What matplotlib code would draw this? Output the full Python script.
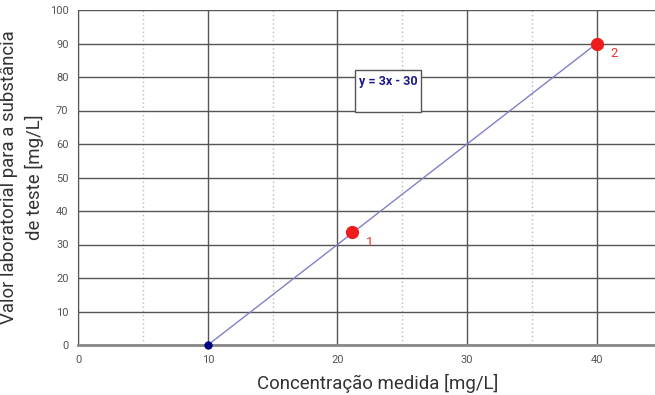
#!/usr/bin/env python3
"""Calibration line: laboratory value vs measured concentration."""

import matplotlib.pyplot as plt
from matplotlib.patches import Rectangle
from matplotlib.ticker import MultipleLocator

plt.rcParams["font.family"] = ["Roboto", "DejaVu Sans"]

# data
line_x = [10, 40]
line_y = [0, 90]
origin_x = [10]
origin_y = [0]
pts_x = [21.1, 40]
pts_y = [33.8, 90]
pts_labels = ["1", "2"]
equation = "y = 3x - 30"

fig = plt.figure(figsize=(6.55, 3.95), dpi=100)
ax = fig.add_axes([78.3 / 655, 1 - 345 / 395, 1 - 78.3 / 655, 335 / 395])
ax.set_xlim(0, 44.5)
ax.set_ylim(0, 100)

# grid: solid every 10, dotted minor every 5 on x
ax.xaxis.set_major_locator(MultipleLocator(10))
ax.xaxis.set_minor_locator(MultipleLocator(5))
ax.yaxis.set_major_locator(MultipleLocator(10))
ax.grid(True, which="major", color="#555555", linewidth=1.0)
ax.grid(True, which="minor", axis="x", color="#bbbbbb", linewidth=1.0, linestyle=(0, (1, 2)))
ax.set_axisbelow(True)
for side in ["right", "top"]:
    ax.spines[side].set_visible(False)
ax.spines["left"].set_color("#555555")
ax.spines["bottom"].set_color("#888888")
ax.spines["bottom"].set_linewidth(2)
ax.axhline(100, color="#cccccc", linewidth=1.5, zorder=0)

ax.tick_params(which="both", length=0, labelsize=8, labelcolor="#555555", pad=7)

ax.plot(line_x, line_y, color="#8080c8", linewidth=1.0, zorder=3)
ax.plot(origin_x, origin_y, "o", color="#000080", markersize=5, zorder=4, clip_on=False)
ax.plot(pts_x, pts_y, "o", color="#ee1c1c", markersize=8.5, zorder=5)
for x, y, lab in zip(pts_x, pts_y, pts_labels):
    ax.annotate(lab, (x, y), xytext=(10, -10), textcoords="offset points",
                color="#ee3333", fontsize=9.5)

# equation box
ax.add_patch(Rectangle((0.4798, 0.6955), 0.1144, 0.1254, transform=ax.transAxes,
                       facecolor="white", edgecolor="#555555", linewidth=1, zorder=6))
ax.text(0.4798 + 0.1144 / 2, 0.6955 + 0.1254 - 0.015, equation, transform=ax.transAxes,
        color="#1a1a8c", fontsize=9, fontweight="bold", va="top", ha="center", zorder=7)

ax.set_xlabel("Concentração medida [mg/L]", fontsize=13.4, color="#333333", labelpad=5)
ax.xaxis.set_label_coords(0.519, -0.085)
ax.set_ylabel("Valor laboratorial para a substância\nde teste [mg/L]", fontsize=13.4,
              color="#333333", labelpad=4, linespacing=1.45)

fig.savefig("out.png", dpi=100)
